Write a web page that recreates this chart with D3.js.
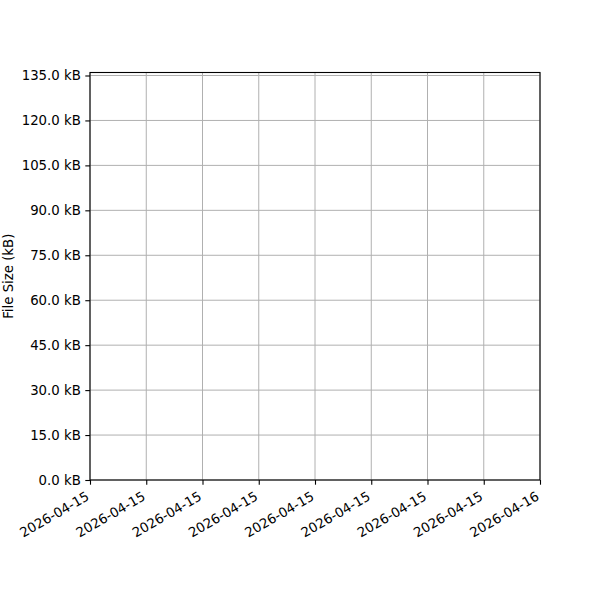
<!DOCTYPE html>
<html>
<head>
<meta charset="utf-8">
<script src="https://cdn.jsdelivr.net/npm/d3@7"></script>
<style>
  body { margin: 0; background: #fff; }
  text { font-family: "DejaVu Sans", sans-serif; }
</style>
</head>
<body>
<div id="chart"></div>
<script>
// range of the time axis (a single day, ticks every 3 hours)
const dateStart = new Date(2026, 3, 15, 0, 0);
const dateEnd = new Date(2026, 3, 16, 0, 0);
const tickHours = 3;
// file size axis in kB
const sizeMax = 136;
const sizeTicks = [0, 15, 30, 45, 60, 75, 90, 105, 120, 135];
// no recorded file sizes
const sizeDates = [];
const sizeValues = [];

const width = 600, height = 600;
const margin = {top: 72.5, right: 60, bottom: 120, left: 90};

const svg = d3.select("#chart").append("svg")
    .attr("width", width)
    .attr("height", height);

const x = d3.scaleTime()
    .domain([dateStart, dateEnd])
    .range([margin.left, width - margin.right]);

const y = d3.scaleLinear()
    .domain([0, sizeMax])
    .range([height - margin.bottom, margin.top]);

const xTicks = d3.timeHour.every(tickHours).range(dateStart, d3.timeMinute.offset(dateEnd, 1));
const fmtDate = d3.timeFormat("%Y-%m-%d");

// grid
svg.append("g")
    .selectAll("line.vgrid")
    .data(xTicks)
    .join("line")
    .attr("x1", d => x(d)).attr("x2", d => x(d))
    .attr("y1", y(sizeMax)).attr("y2", y(0))
    .attr("stroke", "#b0b0b0").attr("stroke-width", 1);

svg.append("g")
    .selectAll("line.hgrid")
    .data(sizeTicks)
    .join("line")
    .attr("x1", x(dateStart)).attr("x2", x(dateEnd))
    .attr("y1", d => y(d)).attr("y2", d => y(d))
    .attr("stroke", "#b0b0b0").attr("stroke-width", 1);

// data (empty)
const line = d3.line().x((d, i) => x(sizeDates[i])).y(d => y(d));
svg.append("path")
    .datum(sizeValues)
    .attr("fill", "none")
    .attr("stroke", "#1f77b4")
    .attr("stroke-width", 2)
    .attr("d", line);

// axes
const xAxis = svg.append("g")
    .attr("transform", `translate(0,${y(0)})`)
    .call(d3.axisBottom(x).tickValues(xTicks).tickFormat(fmtDate).tickSizeInner(4.7).tickSizeOuter(0));
xAxis.select(".domain").remove();
xAxis.selectAll("text")
    .attr("font-size", "13.3px")
    .attr("fill", "#000")
    .attr("x", 0).attr("y", 0)
    .attr("dy", "0.7em")
    .style("text-anchor", "end")
    .attr("transform", "translate(-5,11) rotate(-30)");

const yAxis = svg.append("g")
    .attr("transform", `translate(${x(dateStart)},0)`)
    .call(d3.axisLeft(y).tickValues(sizeTicks).tickFormat(d => d.toFixed(1) + " kB").tickSizeInner(4.7).tickSizeOuter(0).tickPadding(4.5));
yAxis.select(".domain").remove();
yAxis.selectAll("text").attr("font-size", "13.3px").attr("fill", "#000");
svg.selectAll(".tick line").attr("stroke", "#000").attr("stroke-width", 1.1);

// frame
svg.append("rect")
    .attr("x", x(dateStart)).attr("y", y(sizeMax))
    .attr("width", x(dateEnd) - x(dateStart))
    .attr("height", y(0) - y(sizeMax))
    .attr("fill", "none").attr("stroke", "#000").attr("stroke-width", 1.1);

svg.append("text")
    .attr("transform", `translate(13,${(y(0) + y(sizeMax)) / 2}) rotate(-90)`)
    .attr("text-anchor", "middle")
    .attr("font-size", "13.3px")
    .text("File Size (kB)");
</script>
</body>
</html>
